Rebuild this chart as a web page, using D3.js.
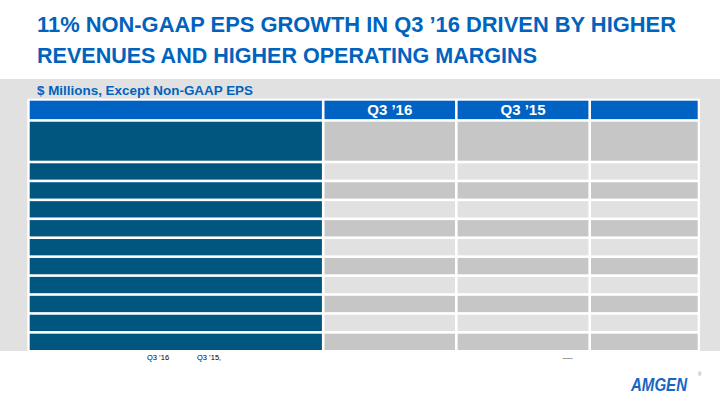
<!DOCTYPE html>
<html><head><meta charset="utf-8">
<script src="https://cdn.jsdelivr.net/npm/d3@7/dist/d3.min.js"></script>
<style>html,body{margin:0;padding:0;background:#fff;}svg{display:block;}</style>
</head><body>
<svg id="c" width="720" height="405"></svg>
<script>
// ---- data ----
const titleLines = ["11% NON-GAAP EPS GROWTH IN Q3 \u201916 DRIVEN BY HIGHER", "REVENUES AND HIGHER OPERATING MARGINS"];
const subtitle = "$ Millions, Except Non-GAAP EPS";
const columns = ["", "Q3 \u201916", "Q3 \u201915", ""];
const rowLabels = [["", ""], [""], [""], [""], [""], [""], [""], [""], [""], [""], [""]];
const valuesQ316 = ["", "", "", "", "", "", "", "", "", "", ""];
const valuesQ315 = ["", "", "", "", "", "", "", "", "", "", ""];
const valuesChange = ["", "", "", "", "", "", "", "", "", "", ""];
const footnoteParts = ["Q3 \u201916", "Q3 \u201915,"];
const footnoteDash = "\u2014";
const logoText = "AMGEN";

// ---- layout ----
const svg = d3.select("#c");
const BLUE = "#0063be", HEADER = "#0063c4", NAVY = "#00567f";
const LIGHT = "#e1e1e1", DARK = "#c6c6c7";

svg.append("rect").attr("x", 0).attr("y", 79).attr("width", 720).attr("height", 272).attr("fill", LIGHT);

const titleWidths = [639, 500];
svg.selectAll("text.title").data(titleLines).join("text")
  .attr("class", "title")
  .attr("x", 37).attr("y", (d, i) => 32 + i * 30.5)
  .attr("font-family", "'Liberation Sans Narrow','Liberation Sans',Arial,sans-serif")
  .attr("font-weight", 700).attr("font-size", 22.5).attr("fill", BLUE)
  .attr("textLength", (d, i) => titleWidths[i]).attr("lengthAdjust", "spacingAndGlyphs")
  .text(d => d);

svg.append("text").attr("x", 37).attr("y", 94.5)
  .attr("font-family", "'Liberation Sans Narrow','Liberation Sans',Arial,sans-serif")
  .attr("font-weight", 700).attr("font-size", 13).attr("fill", BLUE)
  .attr("textLength", 216).attr("lengthAdjust", "spacingAndGlyphs")
  .text(subtitle);

// table geometry via scales
const colWeights = [294.8, 133.1, 133.4, 109.3];
const colEdges = [0, ...d3.cumsum(colWeights)];
const x = d3.scaleLinear().domain([0, d3.sum(colWeights)]).range([28.4, 699]);
const headerH = 21, lineH = 18.9, tallH = 41.5;
const rowHs = [headerH, ...rowLabels.map(l => l.length > 1 ? tallH : lineH)];
const rowEdges = [0, ...d3.cumsum(rowHs)];
const y = d3.scaleLinear().domain([0, d3.sum(rowHs)]).range([99.4, 351.3]);
const inset = 1.3;

svg.append("rect").attr("x", 27.3).attr("y", 98.6).attr("width", 700 - 27.3).attr("height", 352.3 - 98.6).attr("fill", "#fff");

const rows = rowLabels.map((lab, i) => ({lab, cells: [lab.join("\n"), valuesQ316[i], valuesQ315[i], valuesChange[i]]}));
const cells = [];
columns.forEach((c, j) => cells.push({r: 0, c: j, text: c}));
rows.forEach((row, i) => row.cells.forEach((t, j) => cells.push({r: i + 1, c: j, text: t})));

svg.selectAll("rect.cell").data(cells).join("rect")
  .attr("class", "cell")
  .attr("x", d => x(colEdges[d.c]) + inset)
  .attr("y", d => y(rowEdges[d.r]) + inset)
  .attr("width", d => x(colEdges[d.c + 1]) - x(colEdges[d.c]) - 2 * inset)
  .attr("height", d => y(rowEdges[d.r + 1]) - y(rowEdges[d.r]) - 2 * inset)
  .attr("fill", d => d.r === 0 ? HEADER : (d.c === 0 ? NAVY : (d.r % 2 === 1 ? DARK : LIGHT)));

svg.selectAll("text.cell").data(cells.filter(d => d.text.trim() !== "")).join("text")
  .attr("class", "cell")
  .attr("x", d => (x(colEdges[d.c]) + x(colEdges[d.c + 1])) / 2)
  .attr("y", d => (y(rowEdges[d.r]) + y(rowEdges[d.r + 1])) / 2 + 5.5)
  .attr("text-anchor", "middle")
  .attr("font-family", "'Liberation Sans',Arial,sans-serif")
  .attr("font-weight", 700).attr("font-size", 15).attr("fill", "#fff")
  .text(d => d.text);

// footnote
const fx = [147, 197];
svg.selectAll("text.fn").data(footnoteParts).join("text")
  .attr("class", "fn")
  .attr("x", (d, i) => fx[i]).attr("y", 360)
  .attr("font-family", "'Liberation Sans',Arial,sans-serif")
  .attr("font-size", 7.5).attr("fill", "#000")
  .text(d => d);
svg.append("text").attr("x", 567.5).attr("y", 360.5).attr("text-anchor", "middle")
  .attr("font-family", "'Liberation Sans',Arial,sans-serif")
  .attr("font-size", 10).attr("fill", "#888").text(footnoteDash);

// logo
svg.append("text").attr("x", 631).attr("y", 391)
  .attr("font-family", "'Liberation Sans',Arial,sans-serif")
  .attr("font-weight", 900).attr("font-style", "italic").attr("font-size", 18).attr("fill", "#1766c4")
  .attr("textLength", 56).attr("lengthAdjust", "spacingAndGlyphs").text(logoText);
svg.append("text").attr("x", 698).attr("y", 376)
  .attr("font-family", "'Liberation Sans',Arial,sans-serif")
  .attr("font-size", 4.5).attr("fill", "#888").text("\u00ae");
</script>
</body></html>
